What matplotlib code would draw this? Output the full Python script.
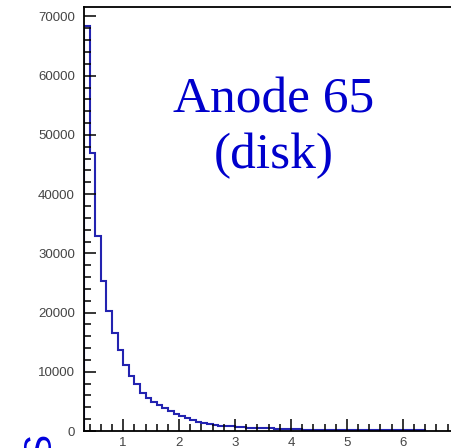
import matplotlib
matplotlib.use('Agg')
import matplotlib.pyplot as plt
import numpy as np
from matplotlib.ticker import MultipleLocator

# bin edges (0.1 wide, from 0.3 to 6.4)
bin_lo = 0.3
bin_width = 0.1

counts = [68400, 46900, 33000, 25400, 20300, 16600, 13600,
          11200, 9300, 7950, 6400, 5600, 4950, 4400, 3800, 3300, 2950,
          2600, 2200, 1850, 1550, 1300, 1100, 950, 850, 800, 760,
          720, 680, 560, 530, 500, 470, 450, 420, 400, 380,
          360, 340, 250, 240, 230, 220, 210, 200, 190, 180,
          170, 165, 160, 150, 145, 140, 130, 125, 120, 115,
          110, 105, 100, 95]

title_lines = ['Anode 65', '(disk)']
ylabel = 'COUNTS'

edges = np.round(bin_lo + bin_width * np.arange(len(counts) + 1), 2)

fig = plt.figure(figsize=(4.52, 4.48), dpi=100)
W, H = 452, 448
# frame runs past the right edge of the picture
ax = fig.add_axes([84 / W, 17 / H, 372 / W, 424 / H])

ax.stairs(counts, edges, color='#2323b0', linewidth=1.5, baseline=0)

ax.set_xlim(0.3, 6.95)
ax.set_ylim(0, 71600)

ax.xaxis.set_major_locator(MultipleLocator(1))
ax.xaxis.set_minor_locator(MultipleLocator(0.2))
ax.yaxis.set_major_locator(MultipleLocator(10000))
ax.yaxis.set_minor_locator(MultipleLocator(2000))

ax.tick_params(which='both', direction='in', top=False, right=False,
               colors='black', labelcolor='#444444', labelsize=9.5)
ax.tick_params(which='major', length=8.5, width=1.1)
ax.tick_params(which='minor', length=5, width=1.1)
ax.tick_params(axis='y', pad=6.5)
ax.tick_params(axis='x', pad=4)
for lab in ax.get_xticklabels() + ax.get_yticklabels():
    lab.set_fontfamily('Liberation Sans')

for sp in ax.spines.values():
    sp.set_linewidth(1.3)
    sp.set_color('black')

fig.text(274 / W, 1 - 128 / H, '\n'.join(title_lines), ha='center',
         va='center', fontsize=37, color='#0000cc',
         family='Liberation Serif', linespacing=1.28)

fig.text(40 / W, 16 / H, ylabel, rotation=90, ha='center', va='top',
         fontsize=28, color='#0000dd', family='Liberation Sans')

fig.savefig('out.png', dpi=100)
